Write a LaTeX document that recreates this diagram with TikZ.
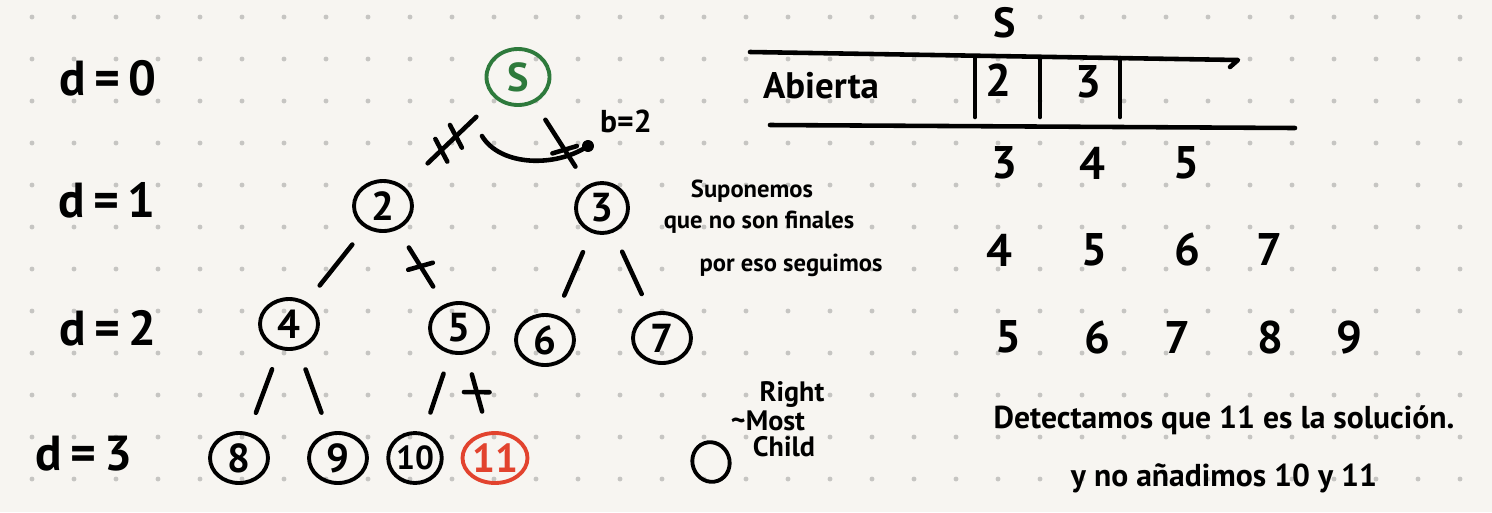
\documentclass[tikz,border=0pt]{standalone}
\usepackage{fontspec}
\setmainfont{PT Sans}
\usetikzlibrary{shapes.geometric,decorations.markings}

\definecolor{paper}{HTML}{F7F5F1}
\definecolor{dotgray}{HTML}{C6C5C2}
\definecolor{startgreen}{HTML}{2E7A3C}
\definecolor{goalred}{HTML}{E2432E}

\newcommand{\hand}[1]{\fontsize{#1}{#1}\selectfont\bfseries}

\tikzset{
  ink/.style={line width=2.6pt, line cap=round, line join=round},
  state/.style={draw, ellipse, line width=2.2pt, minimum width=1.16cm, minimum height=1.0cm, inner sep=0pt, font=\hand{23}},
  edge/.style={ink, shorten <=0.42cm, shorten >=0.42cm},
  cut/.style={postaction={decorate, decoration={markings, mark=at position #1 with {\draw[ink, shorten <=0pt, shorten >=0pt] (-2pt,-7pt) -- (2pt,7pt);}}}},
  note/.style={inner sep=0pt, font=\hand{14}},
  queue/.style={note, font=\hand{26}},
}

\begin{document}
\begin{tikzpicture}[x=0.02cm, y=-0.02cm]
% paper and dot grid
\fill[paper] (0,0) rectangle (1492,512);
\useasboundingbox (0,0) rectangle (1492,512);
\foreach \i in {0,...,34}
  \foreach \j in {0,...,11}
    \fill[dotgray] (32+42*\i, 17+42*\j) circle (1.4pt);

% depth labels
\foreach \lvl/\x/\y in {0/108/78, 1/107/200, 2/108/328, 3/84/454}
  \node[note, font=\hand{28}] (depth\lvl) at (\x,\y) {d\,=\,\lvl};

% search tree
\node[state, draw=startgreen, text=startgreen, minimum width=1.26cm, minimum height=1.12cm] (s) at (518,77) {S};
\node[state] (n2) at (383,206) {2};
\node[state, minimum width=1.04cm] (n3) at (602,208) {3};
\node[state] (n4) at (289,324) {4};
\node[state] (n5) at (459,328) {5};
\node[state] (n6) at (545,340) {6};
\node[state] (n7) at (662,338) {7};
\node[state] (n8) at (239,458) {8};
\node[state] (n9) at (338,458) {9};
\node[state, minimum width=1.0cm, font=\hand{19}] (n10) at (415,458) {10};
\node[state, draw=goalred, text=goalred, minimum width=1.3cm] (n11) at (495,458) {11};

\draw[edge, shorten <=0.52cm, shorten >=0.66cm, cut=0.43, cut=0.59] (s) -- (n2);
\draw[edge, shorten <=0.4cm, shorten >=0.44cm, cut=0.57] (s) -- (n3);
\draw[edge] (n2) -- (n4);
\draw[edge, cut=0.49] (n2) -- (n5);
\draw[edge] (n3) -- (n6);
\draw[edge] (n3) -- (n7);
\draw[edge] (n4) -- (n8);
\draw[edge] (n4) -- (n9);
\draw[edge] (n5) -- (n10);
\draw[edge, cut=0.49] (n5) -- (n11);

% branching factor
\coordinate (barc) at (482,136);
\coordinate (bdot) at (588,146);
\draw[ink] (barc) .. controls (500,166) and (555,168) .. (bdot);
\draw[ink, fill] (bdot) circle (2.2pt);
\node[note, font=\hand{18}] (bfactor) at (626,121) {b=2};

% remark next to node 3
\node[note] (sup1) at (752,191) {Suponemos};
\node[note] (sup2) at (759,222) {que no son finales};
\node[note] (sup3) at (791,265) {por eso seguimos};

% rightmost child
\node[draw, ellipse, line width=2.2pt, minimum width=0.74cm, minimum height=0.8cm, rotate=20] (rmc) at (711,462) {};
\node[note, font=\hand{16}] (rmc1) at (792,394) {Right};
\node[note, font=\hand{16}] (rmc2) at (768,421) {\textasciitilde Most};
\node[note, font=\hand{16}] (rmc3) at (784,447) {Child};

% open list
\node[note, font=\hand{24}] (head) at (1005,23) {S};
\draw[ink] (750,52) -- (1238,60) -- (1230,67);
\draw[ink] (770,125) -- (1295,128);
\foreach \x in {975,1040,1120}
  \draw[ink] (\x,58) -- (\x,117);
\node[note, font=\hand{21}] (open) at (821,86) {Abierta};
\node[note, font=\hand{26}] (open1) at (998,80) {2};
\node[note, font=\hand{26}] (open2) at (1088,82) {3};

\foreach \v/\x [count=\c] in {3/1004,4/1092,5/1186}
  \node[queue] (qa\c) at (\x,163) {\v};
\foreach \v/\x [count=\c] in {4/999,5/1094,6/1187,7/1269}
  \node[queue] (qb\c) at (\x,250) {\v};
\foreach \v/\x [count=\c] in {5/1008,6/1097,7/1177,8/1270,9/1349}
  \node[queue] (qc\c) at (\x,337) {\v};

% conclusion
\node[note, font=\hand{18}] (concl1) at (1224,420) {Detectamos que 11 es la solución.};
\node[note, font=\hand{18}] (concl2) at (1224,478) {y no añadimos 10 y 11};
\end{tikzpicture}
\end{document}
